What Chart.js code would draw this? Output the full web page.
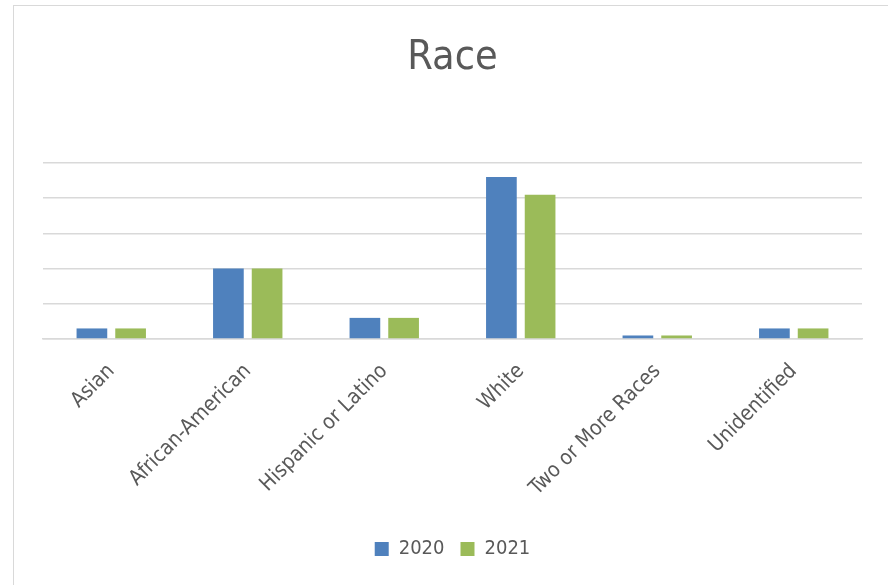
<!DOCTYPE html>
<html>
<head>
<meta charset="utf-8">
<script src="https://cdn.jsdelivr.net/npm/chart.js@4.4.1/dist/chart.umd.min.js"></script>
<style>
  html, body { margin: 0; padding: 0; background: #ffffff; }
  #wrap { position: relative; width: 888px; height: 585px; overflow: hidden; background: #fff; }
  #frame { position: absolute; left: 13px; top: 5px; width: 900px; height: 600px;
           border-left: 1.5px solid #d9d9d9; border-top: 1.5px solid #d9d9d9; box-sizing: border-box; }
  canvas { position: absolute; left: 0; top: 0; }
</style>
</head>
<body>
<div id="wrap">
  <div id="frame"></div>
  <canvas id="c" width="888" height="585"></canvas>
</div>
<script>
const categories = ["Asian", "African-American", "Hispanic or Latino", "White", "Two or More Races", "Unidentified"];
const values2020 = [3, 20, 6, 46, 1, 3];
const values2021 = [3, 20, 6, 41, 1, 3];
const seriesNames = ["2020", "2021"];
const chartTitle = "Race";

const FONT = "'Liberation Sans Narrow', 'DejaVu Sans Condensed', 'Liberation Sans', sans-serif";
const TEXT = "#595959";

new Chart(document.getElementById('c'), {
  type: 'bar',
  data: {
    labels: categories,
    datasets: [
      { label: seriesNames[0], data: values2020, backgroundColor: '#4F81BD', borderWidth: 0 },
      { label: seriesNames[1], data: values2021, backgroundColor: '#9BBB59', borderWidth: 0 }
    ]
  },
  options: {
    responsive: false,
    animation: false,
    devicePixelRatio: 1,
    categoryPercentage: 0.567,
    barPercentage: 0.793,
    layout: { padding: { left: 43, right: 26, top: 0, bottom: 16 } },
    plugins: {
      title: {
        display: true,
        text: chartTitle,
        color: TEXT,
        font: { family: FONT, size: 41, weight: 'normal', lineHeight: 1 },
        padding: { top: 38, bottom: 84 }
      },
      legend: {
        display: true,
        position: 'bottom',
        labels: {
          color: TEXT,
          font: { family: FONT, size: 20 },
          boxWidth: 14,
          boxHeight: 14,
          padding: 16
        }
      },
      tooltip: { enabled: false }
    },
    scales: {
      x: {
        grid: { display: false },
        border: { display: true, color: '#d9d9d9', width: 1.5 },
        ticks: {
          color: TEXT,
          font: { family: FONT, size: 21 },
          minRotation: 45,
          maxRotation: 45,
          padding: 12,
          autoSkip: false
        },
        afterFit: (scale) => { scale.height = 184; }
      },
      y: {
        min: 0,
        max: 50,
        ticks: { display: false, stepSize: 10 },
        grid: { color: '#d9d9d9', lineWidth: 1.5, drawTicks: false },
        border: { display: false }
      }
    }
  }
});
</script>
</body>
</html>
